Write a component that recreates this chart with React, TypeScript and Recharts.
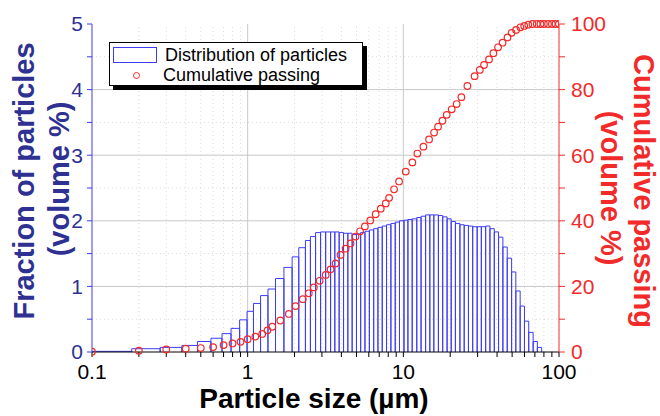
import { ComposedChart, Line, Scatter, XAxis, YAxis, ReferenceLine } from "recharts";

// bin edges of the size classes (µm) and volume % per class
const binEdges = [
  0.1, 0.18, 0.274, 0.378, 0.476, 0.581, 0.684, 0.782, 0.888, 0.991, 1.09, 1.21, 1.35, 1.51, 1.71,
  1.93, 2.13, 2.35, 2.53, 2.73, 2.94, 3.17, 3.41, 3.63, 3.87, 4.13, 4.4, 4.69, 5.0, 5.32, 5.67,
  6.05, 6.45, 6.87, 7.32, 7.8, 8.32, 8.87, 9.45, 10.1, 10.7, 11.4, 12.2, 13.0, 13.9, 14.8, 15.7,
  16.8, 17.9, 19.1, 20.3, 21.6, 23.1, 24.6, 26.2, 27.9, 29.8, 31.7, 33.8, 36.0, 38.4, 40.9, 43.6,
  46.5, 49.6, 52.8, 56.3, 60.0, 63.9, 68.2, 72.6, 77.4,
];
const fraction = [
  0.01, 0.05, 0.07, 0.1, 0.16, 0.21, 0.28, 0.36, 0.49, 0.62, 0.74, 0.86, 0.96, 1.12, 1.29, 1.45,
  1.59, 1.7, 1.76, 1.82, 1.83, 1.83, 1.83, 1.83, 1.82, 1.81, 1.81, 1.79, 1.8, 1.82, 1.84, 1.86,
  1.88, 1.9, 1.92, 1.94, 1.96, 1.98, 2.0, 2.01, 2.02, 2.03, 2.05, 2.07, 2.09, 2.09, 2.09, 2.08,
  2.06, 2.03, 1.99, 1.96, 1.94, 1.93, 1.92, 1.91, 1.91, 1.91, 1.92, 1.88, 1.83, 1.75, 1.6, 1.43,
  1.22, 0.93, 0.7, 0.47, 0.3, 0.16, 0.07,
];

// cumulative passing (volume %) at size (µm)
const cumSize = [
  0.1, 0.2, 0.3, 0.4, 0.5, 0.6, 0.7, 0.8, 0.9, 1.0, 1.12, 1.24, 1.34, 1.44, 1.62, 1.84, 2.03, 2.26,
  2.47, 2.66, 2.9, 3.17, 3.41, 3.67, 3.95, 4.26, 4.58, 4.93, 5.27, 5.66, 6.13, 6.64, 7.16, 7.71,
  8.1, 8.72, 9.39, 10.36, 11.43, 12.31, 13.46, 14.63, 15.76, 16.72, 17.84, 19.0, 20.45, 22.0,
  23.6, 25.8, 28.7, 31.0, 33.0, 35.5, 37.9, 40.6, 43.4, 46.7, 49.6, 53.0, 56.5, 59.8, 63.5, 67.5,
  72, 76, 80, 85, 90, 95, 100,
];
const cumPassing = [
  0.1, 0.4, 0.8, 1.0, 1.2, 1.5, 2.1, 2.6, 3.1, 3.9, 4.7, 5.5, 6.6, 7.7, 9.6, 11.6, 14.0, 16.1,
  17.9, 19.7, 21.7, 23.5, 25.2, 27.0, 29.6, 31.5, 33.1, 35.2, 36.8, 38.3, 40.1, 42.0, 43.7, 45.3,
  47.0, 49.6, 52.0, 55.0, 57.8, 60.5, 62.6, 64.8, 66.9, 68.7, 70.5, 72.3, 74.0, 75.6, 77.7, 81.1,
  84.1, 86.0, 87.5, 89.2, 91.1, 92.9, 94.3, 95.9, 97.3, 98.2, 99.0, 99.4, 99.8, 100, 100, 100,
  100, 100, 100, 100, 100,
];

const xMajor = [0.1, 1, 10, 100];
const xMinor = [
  0.2, 0.3, 0.4, 0.5, 0.6, 0.7, 0.8, 0.9, 2, 3, 4, 5, 6, 7, 8, 9, 20, 30, 40, 50, 60, 70, 80, 90,
];
const leftTicks = [0, 0.5, 1, 1.5, 2, 2.5, 3, 3.5, 4, 4.5, 5];
const leftMajorGrid = [1, 2, 3, 4];
const leftMinorGrid = [0.5, 1.5, 2.5, 3.5, 4.5];
const rightTicks = [0, 10, 20, 30, 40, 50, 60, 70, 80, 90, 100];

const FONT = "'Liberation Sans', Arial, Helvetica, sans-serif";
const NAVY = "#2e3192";
const BLUE = "#3c3cf5";
const RED = "#f22a2a";

// outline of each class as a rectangle (left side, top, right side)
const histPath = fraction.flatMap((f, i) => [
  { x: binEdges[i], frac: 0 },
  { x: binEdges[i], frac: f },
  { x: binEdges[i + 1], frac: f },
  { x: binEdges[i + 1], frac: 0 },
]);
const cumData = cumSize.map((x, i) => ({ x, pass: cumPassing[i] }));
const allXTicks = [...xMajor, ...xMinor].sort((a, b) => a - b);

function OpenCircle(props: any) {
  const { cx, cy } = props;
  if (cx == null || cy == null) return null;
  return <circle cx={cx} cy={cy} r={3.3} fill="none" stroke={RED} strokeWidth={1.2} />;
}

function LeftTitle() {
  return (
    <g fontFamily={FONT} fontWeight="bold" fontSize={29} fill={NAVY}>
      <text x={24} y={181} transform="rotate(-90, 24, 181)" textAnchor="middle" dominantBaseline="central">
        Fraction of particles
      </text>
      <text x={59} y={179} transform="rotate(-90, 59, 179)" textAnchor="middle" dominantBaseline="central">
        (volume %)
      </text>
    </g>
  );
}

function RightTitle() {
  return (
    <g fontFamily={FONT} fontWeight="bold" fontSize={29} fill={RED}>
      <text x={644} y={191} transform="rotate(90, 644, 191)" textAnchor="middle" dominantBaseline="central">
        Cumulative passing
      </text>
      <text x={611} y={188} transform="rotate(90, 611, 188)" textAnchor="middle" dominantBaseline="central">
        (volume %)
      </text>
    </g>
  );
}

function BottomTitle() {
  return (
    <text x={314} y={408} textAnchor="middle" fontFamily={FONT} fontWeight="bold" fontSize={28} fill="#000">
      Particle size (µm)
    </text>
  );
}

function LegendBox() {
  return (
    <div
      style={{
        position: "absolute",
        left: 109,
        top: 42,
        width: 252,
        height: 42,
        border: "1px solid #000",
        background: "#fff",
        boxShadow: "4px 4px 0 #000",
        fontFamily: FONT,
        fontSize: 18,
        lineHeight: "20px",
        color: "#000",
      }}
    >
      <div style={{ display: "flex", alignItems: "center", height: 21, marginTop: 1 }}>
        <span
          style={{ display: "inline-block", width: 42, height: 14, border: `1px solid ${BLUE}`, marginLeft: 3, marginRight: 8 }}
        />
        <span>Distribution of particles</span>
      </div>
      <div style={{ display: "flex", alignItems: "center", height: 20 }}>
        <span
          style={{
            display: "inline-block",
            width: 5,
            height: 5,
            borderRadius: "50%",
            border: `1.2px solid ${RED}`,
            marginLeft: 23,
            marginRight: 23,
          }}
        />
        <span>Cumulative passing</span>
      </div>
    </div>
  );
}

export default function App() {
  return (
    <div style={{ position: "absolute", left: 0, top: 0, width: 660, height: 416, background: "#fff" }}>
      <ComposedChart width={660} height={416} margin={{ top: 24, right: 0, bottom: 0, left: 0 }}>
        {xMinor.map((v) => (
          <ReferenceLine key={`xm${v}`} x={v} yAxisId="left" stroke="#dcdcdc" strokeDasharray="1 3" />
        ))}
        {leftMinorGrid.map((v) => (
          <ReferenceLine key={`ym${v}`} y={v} yAxisId="left" stroke="#dcdcdc" strokeDasharray="1 3" />
        ))}
        {[1, 10].map((v) => (
          <ReferenceLine key={`xM${v}`} x={v} yAxisId="left" stroke="#c8c8c8" />
        ))}
        {leftMajorGrid.map((v) => (
          <ReferenceLine key={`yM${v}`} y={v} yAxisId="left" stroke="#c8c8c8" />
        ))}
        <XAxis
          dataKey="x"
          type="number"
          scale="log"
          domain={[0.1, 100]}
          allowDataOverflow
          ticks={allXTicks}
          interval={0}
          tickFormatter={(v: number) => (xMajor.includes(v) ? String(v) : "")}
          height={64}
          stroke="#000"
          tickSize={5}
          tickMargin={7}
          tick={{ fill: "#000", fontSize: 21, fontFamily: FONT }}
          label={{ content: () => <BottomTitle /> }}
        />
        <XAxis
          xAxisId="top"
          orientation="top"
          type="number"
          scale="log"
          domain={[0.1, 100]}
          allowDataOverflow
          ticks={allXTicks}
          interval={0}
          tickFormatter={() => ""}
          height={0}
          mirror
          stroke="#000"
          tickSize={4}
        />
        <YAxis
          yAxisId="left"
          domain={[0, 5]}
          ticks={leftTicks}
          interval={0}
          width={92}
          stroke={BLUE}
          tickSize={5}
          tickMargin={4}
          tickFormatter={(v: number) => (Number.isInteger(v) ? String(v) : "")}
          tick={{ fill: NAVY, fontSize: 21, fontFamily: FONT }}
          label={{ content: () => <LeftTitle /> }}
        />
        <YAxis
          yAxisId="right"
          orientation="right"
          domain={[0, 100]}
          ticks={rightTicks}
          interval={0}
          width={101}
          stroke={RED}
          tickSize={6}
          tickMargin={6}
          tickFormatter={(v: number) => (v % 20 === 0 ? String(v) : "")}
          tick={{ fill: RED, fontSize: 21, fontFamily: FONT }}
          label={{ content: () => <RightTitle /> }}
        />
        <Line
          yAxisId="left"
          data={histPath}
          dataKey="frac"
          type="linear"
          stroke={BLUE}
          strokeWidth={1}
          dot={false}
          isAnimationActive={false}
        />
        <Scatter
          yAxisId="right"
          data={cumData}
          dataKey="pass"
          shape={<OpenCircle />}
          isAnimationActive={false}
        />
      </ComposedChart>
      <LegendBox />
    </div>
  );
}
